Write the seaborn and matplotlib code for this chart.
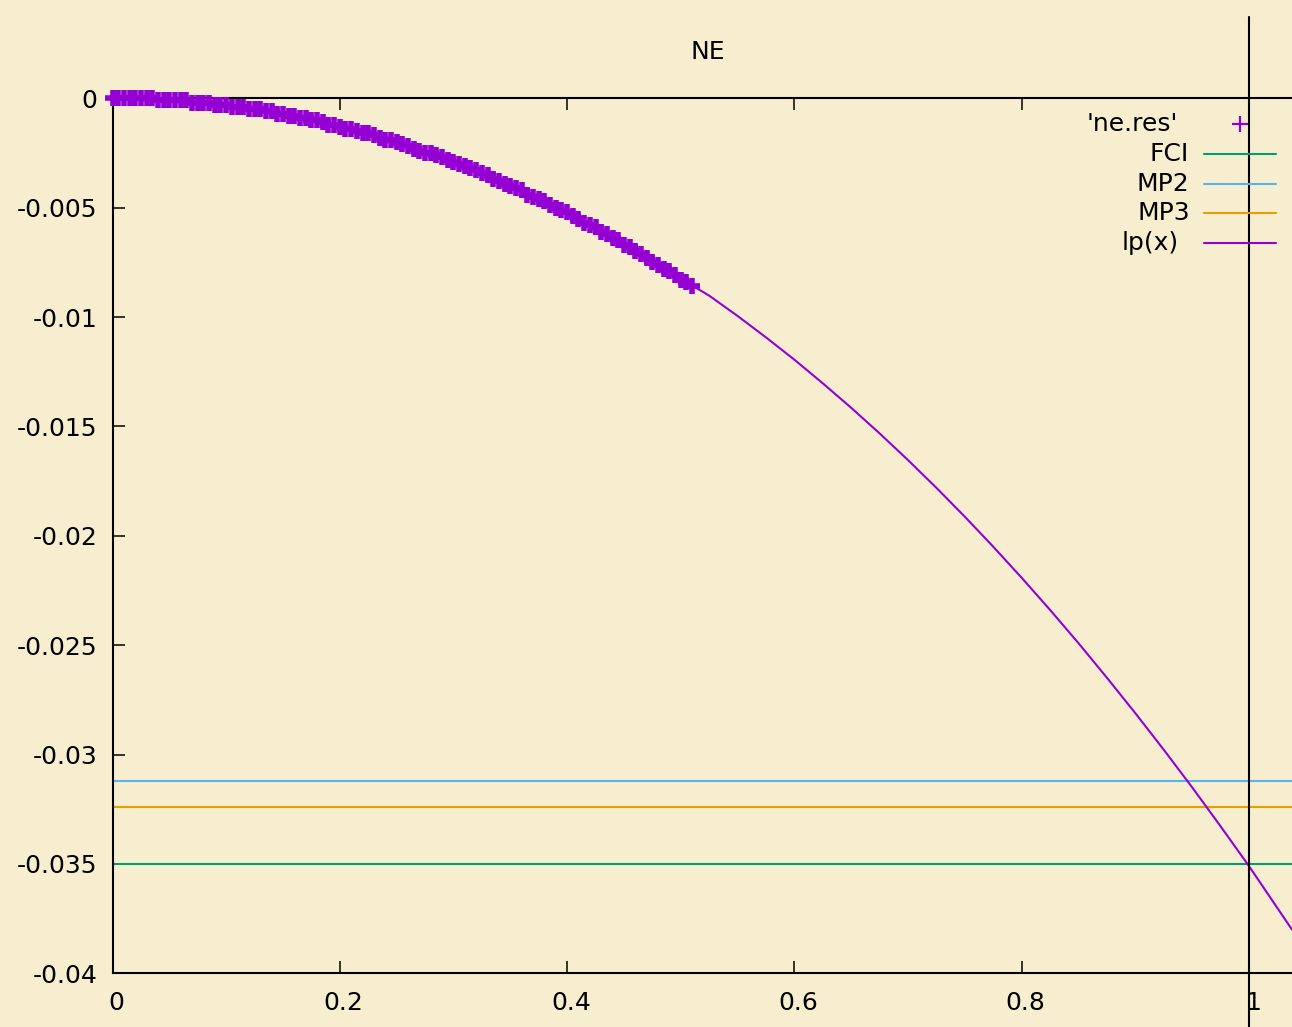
import numpy as np
import pandas as pd
import seaborn as sns
import matplotlib
matplotlib.use("Agg")
import matplotlib.pyplot as plt
from matplotlib.lines import Line2D
from matplotlib.transforms import ScaledTranslation

# ---------------- data ----------------
title = "NE"
ne_x = [0.000, 0.005, 0.010, 0.015, 0.020, 0.025, 0.030, 0.035, 0.040, 0.045,
        0.050, 0.055, 0.060, 0.065, 0.070, 0.075, 0.080, 0.085, 0.090, 0.095,
        0.100, 0.105, 0.110, 0.115, 0.120, 0.125, 0.130, 0.135, 0.140, 0.145,
        0.150, 0.155, 0.160, 0.165, 0.170, 0.175, 0.180, 0.185, 0.190, 0.195,
        0.200, 0.205, 0.210, 0.215, 0.220, 0.225, 0.230, 0.235, 0.240, 0.245,
        0.250, 0.255, 0.260, 0.265, 0.270, 0.275, 0.280, 0.285, 0.290, 0.295,
        0.300, 0.305, 0.310, 0.315, 0.320, 0.325, 0.330, 0.335, 0.340, 0.345,
        0.350, 0.355, 0.360, 0.365, 0.370, 0.375, 0.380, 0.385, 0.390, 0.395,
        0.400, 0.405, 0.410, 0.415, 0.420, 0.425, 0.430, 0.435, 0.440, 0.445,
        0.450, 0.455, 0.460, 0.465, 0.470, 0.475, 0.480, 0.485, 0.490, 0.495,
        0.500, 0.505, 0.510]
ne_y = [0.0000, 0.0000, 0.0000, 0.0000, 0.0000, 0.0000, 0.0000, 0.0000, -0.0001, -0.0001,
        -0.0001, -0.0001, -0.0001, -0.0001, -0.0002, -0.0002, -0.0002, -0.0002, -0.0003, -0.0003,
        -0.0003, -0.0004, -0.0004, -0.0004, -0.0005, -0.0005, -0.0005, -0.0006, -0.0006, -0.0007,
        -0.0007, -0.0008, -0.0008, -0.0009, -0.0009, -0.0010, -0.0010, -0.0011, -0.0012, -0.0012,
        -0.0013, -0.0014, -0.0014, -0.0015, -0.0016, -0.0016, -0.0017, -0.0018, -0.0019, -0.0019,
        -0.0020, -0.0021, -0.0022, -0.0023, -0.0024, -0.0025, -0.0025, -0.0026, -0.0027, -0.0028,
        -0.0029, -0.0030, -0.0031, -0.0032, -0.0033, -0.0034, -0.0035, -0.0037, -0.0038, -0.0039,
        -0.0040, -0.0041, -0.0042, -0.0044, -0.0045, -0.0046, -0.0047, -0.0049, -0.0050, -0.0051,
        -0.0052, -0.0054, -0.0055, -0.0057, -0.0058, -0.0059, -0.0061, -0.0062, -0.0064, -0.0065,
        -0.0067, -0.0068, -0.0070, -0.0071, -0.0073, -0.0075, -0.0076, -0.0078, -0.0079, -0.0081,
        -0.0083, -0.0084, -0.0086]

lp_x = [0.0, 0.1, 0.2, 0.3, 0.4, 0.5, 0.525, 0.55, 0.575, 0.6, 0.625, 0.65, 0.675,
        0.7, 0.725, 0.75, 0.775, 0.8, 0.825, 0.85, 0.875, 0.9, 0.925, 0.95, 0.975,
        1.0, 1.0378]
lp_y = [0.0, -0.00032, -0.00129, -0.00293, -0.00520, -0.00825, -0.00902, -0.00995,
        -0.01093, -0.01195, -0.01303, -0.01415, -0.01532, -0.01654, -0.01781, -0.01913,
        -0.02050, -0.02192, -0.02339, -0.02491, -0.02649, -0.02811, -0.02978, -0.03150,
        -0.03328, -0.03510, -0.03800]

ref_names = ["FCI", "MP2", "MP3"]
ref_values = [-0.0350, -0.03121, -0.03239]

x_ticks = [0, 0.2, 0.4, 0.6, 0.8, 1.0]
x_ticklabels = ["0", "0.2", "0.4", "0.6", "0.8", "1"]
y_ticks = [-0.04, -0.035, -0.03, -0.025, -0.02, -0.015, -0.01, -0.005, 0.0]
y_ticklabels = ["-0.04", "-0.035", "-0.03", "-0.025", "-0.02", "-0.015", "-0.01", "-0.005", "0"]

# ---------------- style ----------------
BG = "#F7EED0"
PURPLE = "#9400D3"
ref_colors = {"FCI": "#009E73", "MP2": "#56B4E9", "MP3": "#E69F00"}
FS = 18

sns.set_theme(style="ticks")
plt.rcParams["font.family"] = ["DejaVu Sans"]
plt.rcParams["axes.unicode_minus"] = False

W, H = 1292, 1027
fig = plt.figure(figsize=(W / 100, H / 100), dpi=100, facecolor=BG)

x0_px, x1_px = 112.5, 1249.0
ytop_px, ybot_px = 98.3, 973.3
left = x0_px / W
bottom = 1 - ybot_px / H
height = (ybot_px - ytop_px) / H
ax = fig.add_axes([left, bottom, 1 - left, height])
ax.set_facecolor(BG)

xmax = (W - x0_px) / (x1_px - x0_px)
ax.set_xlim(0, xmax)
ax.set_ylim(-0.04, 0)

# reference horizontal lines
for name, val in zip(ref_names, ref_values):
    ax.axhline(val, color=ref_colors[name], lw=1.5, zorder=2)

# fitted curve
lp_df = pd.DataFrame({"x": lp_x, "y": lp_y})
sns.lineplot(data=lp_df, x="x", y="y", sort=False, estimator=None, color=PURPLE,
             lw=1.5, ax=ax, zorder=3)

# data points (dense '+' markers forming a solid band)
ne_df = pd.DataFrame({"x": ne_x, "y": ne_y})
sns.lineplot(data=ne_df, x="x", y="y", sort=False, estimator=None, color=PURPLE,
             linestyle="none", marker="+", markersize=11.5, markeredgewidth=4.0,
             markeredgecolor=PURPLE, markerfacecolor=PURPLE,
             ax=ax, zorder=4, clip_on=False)

# vertical line at x = 1 reaching beyond the plot box
span = ybot_px - ytop_px
ax.axvline(1.0, ymin=(ybot_px - H) / span, ymax=(ybot_px - 17) / span,
           color="black", lw=1.5, clip_on=False, zorder=5)

# axes cosmetics
for side in ["left", "bottom", "top"]:
    ax.spines[side].set_visible(True)
    ax.spines[side].set_color("black")
    ax.spines[side].set_linewidth(1.5)
ax.spines["right"].set_visible(False)

ax.set_xticks(x_ticks)
ax.set_xticklabels(x_ticklabels)
ax.set_yticks(y_ticks)
ax.set_yticklabels(y_ticklabels)
ax.tick_params(axis="x", direction="in", length=8.6, width=1.1, color="black",
               labelsize=FS, pad=13, top=True, bottom=True, labelcolor="black")
ax.tick_params(axis="y", direction="in", length=8.6, width=1.1, color="black",
               labelsize=FS, pad=11, left=True, right=False, labelcolor="black")
ax.set_xlabel("")
ax.set_ylabel("")
ax.grid(False)

# gnuplot puts the x tick labels a few pixels to the right
shift = ScaledTranslation(4 / 100, 0, fig.dpi_scale_trans)
for lbl in ax.get_xticklabels():
    lbl.set_transform(lbl.get_transform() + shift)

# title
fig.text(708 / W, 1 - 52 / H, title, ha="center", va="center", fontsize=FS, color="black")

# legend (gnuplot-style key, right-justified labels)
legend_rows = [("'ne.res'", 1178, 124, "point", PURPLE),
               ("FCI", 1189, 154, "line", ref_colors["FCI"]),
               ("MP2", 1189, 184, "line", ref_colors["MP2"]),
               ("MP3", 1190, 213, "line", ref_colors["MP3"]),
               ("lp(x)", 1179, 243, "line", PURPLE)]
for label, tx, ty, kind, col in legend_rows:
    fig.text(tx / W, 1 - ty / H, label, ha="right", va="center", fontsize=FS, color="black")
    if kind == "line":
        fig.add_artist(Line2D([1204 / W, 1276 / W], [1 - ty / H, 1 - ty / H],
                              transform=fig.transFigure, color=col, lw=1.5))
    else:
        fig.add_artist(Line2D([1240 / W], [1 - ty / H], transform=fig.transFigure,
                              color=col, marker="+", markersize=11, mew=1.6, ls="none"))

fig.savefig("out.png", dpi=100, facecolor=BG)
